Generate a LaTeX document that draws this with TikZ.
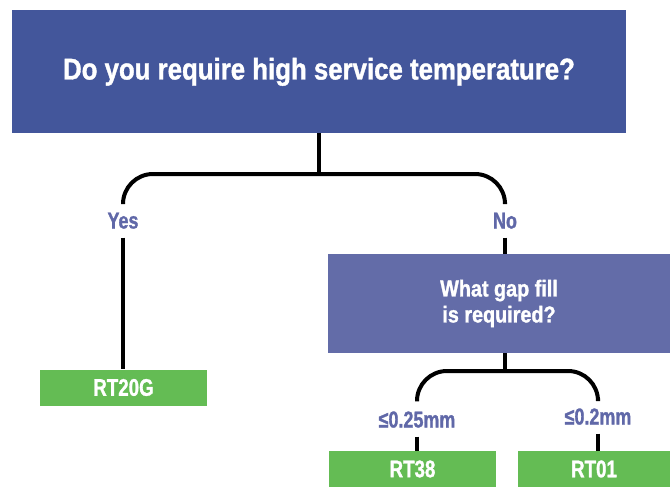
\documentclass[tikz,border=0pt]{standalone}
\usepackage{fontspec}
\usepackage{xcolor}
\usetikzlibrary{positioning,calc}
\newfontfamily\condfont{Liberation Sans}[FakeStretch=0.78, BoldFeatures={FakeBold=1.2}]
\newfontfamily\headfont{Liberation Sans}[FakeStretch=0.86, BoldFeatures={FakeBold=1.2}]
\definecolor{darkblue}{RGB}{67,86,155}
\definecolor{midblue}{RGB}{99,108,168}
\definecolor{leafgreen}{RGB}{100,188,84}
\definecolor{labelblue}{RGB}{96,104,168}

\tikzset{
  question/.style={rectangle, fill=#1, text=white, align=center, inner sep=0pt},
  leaf/.style={rectangle, fill=leafgreen, text=white, inner sep=0pt, minimum height=36pt,
    font=\condfont\bfseries\fontsize{24}{27}\selectfont},
  answer/.style={text=labelblue, inner xsep=0pt, inner ysep=9pt, text height=17pt, text depth=0pt},
  conn/.style={line width=4pt, rounded corners=30pt}
}

\begin{document}
\begin{tikzpicture}[x=1pt, y=-1pt]
\useasboundingbox (0,0) rectangle (670,487);
\node[question=darkblue, minimum width=614pt, minimum height=123pt,
  text height=22pt, text depth=6pt,
  font=\headfont\bfseries\fontsize{30}{34}\selectfont] (temp) at (319,71.5)
  {Do you require high service temperature?};
\node[answer, font=\condfont\bfseries\fontsize{23}{26}\selectfont] (yes) at (123,220) {Yes};
\node[answer, font=\condfont\bfseries\fontsize{23}{26}\selectfont] (no) at (505,220) {No};
\node[question=midblue, minimum width=342pt, minimum height=99pt,
  font=\headfont\bfseries\fontsize{23}{26}\selectfont] (gap) at (499,303.5)
  {What gap fill\\is required?};
\node[leaf, minimum width=167pt] (rt20g) at (123.5,387.5) {RT20G};
\node[answer, font=\condfont\bfseries\fontsize{23}{26}\selectfont] (thick) at (417,419) {≤0.25mm};
\node[answer, font=\condfont\bfseries\fontsize{23}{26}\selectfont] (thin) at (598,416) {≤0.2mm};
\node[leaf, minimum width=167pt] (rt38) at (412.5,469) {RT38};
\node[leaf, minimum width=152pt] (rt01) at (594,469) {RT01};

\draw[conn] (yes.north) |- (temp.south |- 0,174) -| (no.north);
\draw[conn] (temp.south) -- (temp.south |- 0,174);
\draw[conn] (yes.south) -- (rt20g.north -| yes);
\draw[conn] (no.south) -- (gap.north -| no);
\draw[conn] (thick.north) |- (no |- 0,371) -| (thin.north);
\draw[conn] (gap.south -| no) -- (no |- 0,371);
\draw[conn] (thick.south) -- (rt38.north -| thick);
\draw[conn] (thin.south) -- (rt01.north -| thin);
\end{tikzpicture}
\end{document}
